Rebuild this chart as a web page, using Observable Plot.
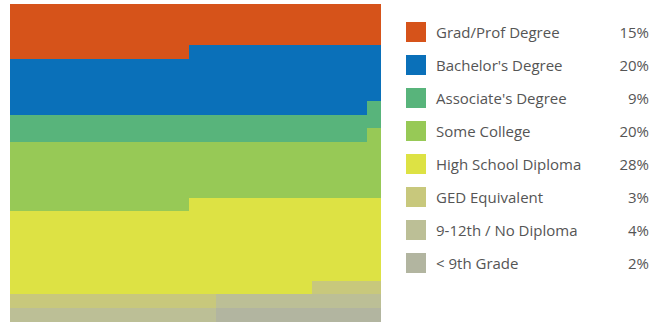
<!DOCTYPE html>
<html>
<head>
<meta charset="utf-8">
<script src="https://cdn.jsdelivr.net/npm/d3@7"></script>
<script src="https://cdn.jsdelivr.net/npm/@observablehq/plot@0.6"></script>
<style>
  html, body { margin: 0; padding: 0; background: #fff; }
  #wrap { position: relative; width: 654px; height: 322px; overflow: hidden; }
  #chart svg { display: block; }
  .legend { position: absolute; left: 0; top: 0; width: 654px; height: 322px; pointer-events: none;
            font-family: "Open Sans", Lato, sans-serif; font-size: 15px; color: #555; }
  .row { position: absolute; left: 406px; width: 243px; height: 20px; }
  .sw { position: absolute; left: 0; top: 0; width: 20px; height: 20px; }
  .lab { position: absolute; left: 30px; top: 0; line-height: 20px; white-space: nowrap; }
  .pct { position: absolute; right: 0; top: 0; line-height: 20px; }
</style>
</head>
<body>
<div id="wrap">
  <div id="chart"></div>
  <div class="legend" id="legend"></div>
</div>
<script>
// Educational attainment: share of population (%), one square per unit of a 27 × 23 grid
const categories = [
  "Grad/Prof Degree",
  "Bachelor's Degree",
  "Associate's Degree",
  "Some College",
  "High School Diploma",
  "GED Equivalent",
  "9-12th / No Diploma",
  "< 9th Grade"
];
const shares = [15.1, 19.5, 8.7, 19.6, 27.5, 3.2, 4.3, 1.9];
const colors = ["#d6531a", "#0a70b9", "#58b47b", "#97c956", "#dde244", "#c8c87c", "#bcbf96", "#b2b5a0"];

const columns = 27;
const rows = 23;
const units = columns * rows;

// number of squares per category, filled left to right, top to bottom
const counts = shares.map(s => Math.round(s / 100 * units));
const cells = [];
categories.forEach((c, k) => {
  for (let i = 0; i < counts[k]; i++) cells.push({category: c});
});
cells.forEach((d, i) => { d.col = i % columns; d.row = Math.floor(i / columns); });

// merge neighbouring squares of one category within a row into a single run
const runs = [];
for (const d of cells) {
  const last = runs[runs.length - 1];
  if (last && last.row === d.row && last.category === d.category) last.x2 = d.col + 1;
  else runs.push({row: d.row, category: d.category, x1: d.col, x2: d.col + 1});
}

const chart = Plot.plot({
  width: 654,
  height: 322,
  marginLeft: 10,
  marginRight: 273,
  marginTop: 4,
  marginBottom: 0,
  x: {domain: [0, columns], axis: null},
  y: {type: "band", domain: d3.range(rows), padding: 0, round: false, axis: null},
  color: {domain: categories, range: colors},
  marks: [
    Plot.barX(runs, {x1: "x1", x2: "x2", y: "row", fill: "category", shapeRendering: "crispEdges"})
  ]
});
document.getElementById("chart").appendChild(chart);

// legend with rounded share per category
const legend = document.getElementById("legend");
categories.forEach((c, k) => {
  const row = document.createElement("div");
  row.className = "row";
  row.style.top = (22 + k * 33) + "px";
  const sw = document.createElement("div");
  sw.className = "sw";
  sw.style.background = colors[k];
  const lab = document.createElement("div");
  lab.className = "lab";
  lab.textContent = c;
  const pct = document.createElement("div");
  pct.className = "pct";
  pct.textContent = Math.round(shares[k]) + "%";
  row.append(sw, lab, pct);
  legend.appendChild(row);
});
</script>
</body>
</html>
